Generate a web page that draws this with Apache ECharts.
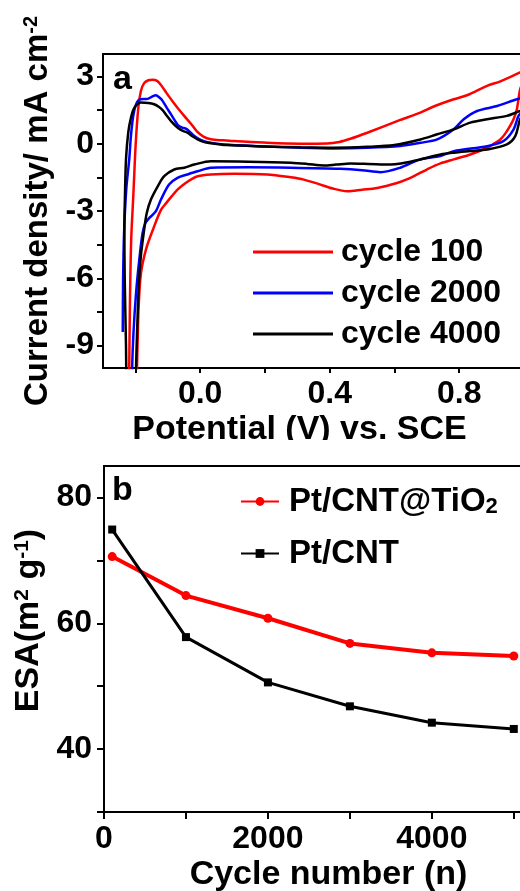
<!DOCTYPE html>
<html>
<head>
<meta charset="utf-8">
<script src="https://cdn.jsdelivr.net/npm/echarts@6/dist/echarts.min.js"></script>
<style>
  html, body { margin: 0; padding: 0; background: #fff; }
  #main { width: 520px; height: 891px; }
</style>
</head>
<body>
<div id="main"></div>
<script>
// ---- panel a: cyclic voltammograms, [potential (V), current density (mA cm-2)] ----
var cycle100 = [
    [-0.221, -12], [-0.219, -10], [-0.217, -7.3], [-0.213, -4.3], [-0.206, -2.2], [-0.199, 0.0],
    [-0.191, 1.6], [-0.183, 2.35], [-0.173, 2.7], [-0.16, 2.83], [-0.147, 2.85], [-0.133, 2.8],
    [-0.121, 2.62], [-0.108, 2.35], [-0.096, 2.1], [-0.083, 1.85], [-0.07, 1.6], [-0.05, 1.25],
    [-0.029, 0.9], [-0.01, 0.55], [0.01, 0.32], [0.033, 0.2], [0.07, 0.15], [0.105, 0.12],
    [0.207, 0.04], [0.31, 0.0], [0.392, 0.01], [0.43, 0.08], [0.464, 0.22], [0.516, 0.49],
    [0.618, 1.06], [0.68, 1.39], [0.721, 1.66], [0.783, 1.98], [0.824, 2.16], [0.886, 2.58],
    [0.927, 2.78], [0.988, 3.18], [1.0, 3.3],
    [1.0, 2.9], [0.988, 2.43], [0.978, 1.54], [0.968, 1.1], [0.957, 0.79], [0.942, 0.45],
    [0.927, 0.19], [0.905, -0.02], [0.886, -0.18], [0.834, -0.48], [0.783, -0.7], [0.742, -0.88],
    [0.7, -1.15], [0.67, -1.37], [0.64, -1.58], [0.608, -1.75], [0.547, -1.97], [0.5, -2.05],
    [0.454, -2.12], [0.41, -2.0], [0.362, -1.78], [0.32, -1.6], [0.28, -1.5], [0.207, -1.37],
    [0.105, -1.34], [0.033, -1.37], [-0.008, -1.45], [-0.029, -1.6], [-0.049, -1.8], [-0.07, -2.05],
    [-0.088, -2.35], [-0.105, -2.65], [-0.121, -2.95], [-0.145, -3.8], [-0.167, -4.7], [-0.183, -5.8],
    [-0.19, -7.3], [-0.193, -8.8], [-0.195, -10], [-0.197, -12]
];
var cycle2000 = [
    [-0.239, -8.4], [-0.238, -6.1], [-0.235, -4.0], [-0.228, -2.0], [-0.219, -0.7], [-0.214, 0.3],
    [-0.207, 1.2], [-0.198, 1.75], [-0.185, 1.98], [-0.162, 2.0], [-0.148, 2.1], [-0.137, 2.16],
    [-0.125, 2.05], [-0.116, 1.91], [-0.103, 1.6], [-0.09, 1.31], [-0.079, 1.05], [-0.068, 0.82],
    [-0.055, 0.72], [-0.044, 0.67], [-0.03, 0.5], [-0.018, 0.34], [0.0, 0.18], [0.023, 0.07],
    [0.074, -0.04], [0.2, -0.12], [0.31, -0.18], [0.413, -0.21], [0.516, -0.18], [0.618, -0.1],
    [0.68, 0.04], [0.732, 0.19], [0.783, 0.64], [0.814, 1.09], [0.855, 1.46], [0.917, 1.68],
    [0.978, 1.98], [1.0, 2.05],
    [1.0, 1.6], [0.983, 1.24], [0.968, 0.64], [0.937, 0.12], [0.886, -0.11], [0.783, -0.33],
    [0.742, -0.55], [0.68, -0.7], [0.618, -1.07], [0.557, -1.27], [0.5, -1.18], [0.433, -1.12],
    [0.28, -1.07], [0.15, -1.05], [0.033, -1.07], [-0.008, -1.23], [-0.039, -1.37], [-0.07, -1.52],
    [-0.096, -1.82], [-0.121, -2.49], [-0.137, -3.02], [-0.157, -3.31], [-0.169, -3.54], [-0.178, -4.0],
    [-0.188, -5.18], [-0.198, -6.67], [-0.206, -8.46], [-0.21, -10], [-0.212, -12]
];
var cycle4000 = [
    [-0.227, -12], [-0.229, -9], [-0.233, -6], [-0.234, -3.8], [-0.232, -2.2], [-0.229, -0.7],
    [-0.222, 0.5], [-0.213, 1.2], [-0.203, 1.61], [-0.183, 1.84], [-0.16, 1.82], [-0.142, 1.76],
    [-0.128, 1.65], [-0.116, 1.5], [-0.103, 1.25], [-0.09, 1.01], [-0.07, 0.72], [-0.055, 0.58],
    [-0.039, 0.49], [-0.024, 0.33], [-0.008, 0.19], [0.01, 0.08], [0.033, 0.02], [0.08, -0.06],
    [0.2, -0.12], [0.31, -0.16], [0.413, -0.18], [0.516, -0.14], [0.6, -0.06], [0.68, 0.19],
    [0.732, 0.42], [0.783, 0.64], [0.834, 0.94], [0.886, 1.09], [0.947, 1.24], [0.988, 1.46],
    [1.0, 1.5],
    [1.0, 1.3], [0.988, 1.09], [0.973, 0.34], [0.947, -0.03], [0.886, -0.26], [0.834, -0.33],
    [0.783, -0.4], [0.742, -0.48], [0.68, -0.7], [0.62, -0.88], [0.588, -0.93], [0.52, -0.9],
    [0.464, -0.88], [0.42, -0.93], [0.382, -0.97], [0.33, -0.9], [0.28, -0.85], [0.15, -0.8],
    [0.033, -0.78], [-0.018, -0.93], [-0.049, -1.07], [-0.08, -1.15], [-0.111, -1.45], [-0.131, -1.9],
    [-0.152, -2.49], [-0.165, -3.1], [-0.173, -3.84], [-0.183, -5.0], [-0.19, -6.5], [-0.195, -8.5],
    [-0.198, -10], [-0.2, -12]
];
var cvNames = ['cycle 100', 'cycle 2000', 'cycle 4000'];

// ---- panel b: ESA vs cycle number ----
var cycles = [100, 1000, 2000, 3000, 4000, 5000];
var esaTiO2 = [70.6, 64.4, 60.8, 56.8, 55.3, 54.8];
var esaCNT = [74.9, 57.8, 50.6, 46.8, 44.2, 43.2];

// tick / label positions
var cvXTicks = [-0.2, 0, 0.2, 0.4, 0.6, 0.8, 1.0];
var cvXLabels = [0, 0.4, 0.8];
var cvYTicks = [-9, -7.5, -6, -4.5, -3, -1.5, 0, 1.5, 3];
var cvYLabels = [-9, -6, -3, 0, 3];
var esaXTicks = [0, 1000, 2000, 3000, 4000, 5000];
var esaXLabels = [0, 2000, 4000];
var esaYTicks = [30, 40, 50, 60, 70, 80];
var esaYLabels = [40, 60, 80];

var FONT = '"Liberation Sans", Arial, Helvetica, sans-serif';

function zip(xs, ys) {
    var out = [];
    for (var i = 0; i < xs.length; i++) {
        out.push([xs[i], ys[i]]);
    }
    return out;
}

// common axis look: black 2px line, outside ticks, big bold labels
function makeAxis(grid, min, max, ticks, labels, tickLen, margin, fmt) {
    return {
        type: 'value',
        gridIndex: grid,
        min: min,
        max: max,
        splitLine: { show: false },
        axisLine: { show: true, onZero: false, lineStyle: { color: '#000', width: 2 } },
        axisTick: {
            show: true,
            inside: false,
            length: tickLen,
            customValues: ticks,
            lineStyle: { color: '#000', width: 2 }
        },
        axisLabel: {
            customValues: labels,
            margin: margin,
            color: '#000',
            fontSize: 32,
            fontWeight: 'bold',
            fontFamily: FONT,
            formatter: fmt
        }
    };
}

var nameStyle = {
    color: '#000',
    fontSize: 34,
    fontWeight: 'bold',
    fontFamily: FONT
};

var xA = makeAxis(0, -0.3, 1.0, cvXTicks, cvXLabels, 5, 10, function (v) { return v.toFixed(1); });
xA.name = 'Potential (V) vs. SCE';
xA.nameLocation = 'middle';
xA.nameGap = 45;
xA.nameTextStyle = Object.assign({ padding: [0, 28, 0, 0] }, nameStyle);

var yA = makeAxis(0, -10, 4, cvYTicks, cvYLabels, 6, 9, function (v) { return String(v); });
yA.name = 'Current density/ mA cm{sup|-2}';
yA.nameLocation = 'middle';
yA.nameGap = 38;
yA.nameTextStyle = Object.assign({}, nameStyle, {
    fontSize: 33,
    rich: { sup: { fontSize: 20, fontWeight: 'bold', fontFamily: FONT, color: '#000', verticalAlign: 'top' } }
});

var xB = makeAxis(1, 0, 5100, esaXTicks, esaXLabels, 7, 11, function (v) { return String(v); });
xB.name = 'Cycle number (n)';
xB.nameLocation = 'middle';
xB.nameGap = 46;
xB.nameTextStyle = Object.assign({ padding: [0, 0, 0, 31] }, nameStyle);

var yB = makeAxis(1, 30, 85, esaYTicks, esaYLabels, 7, 12, function (v) { return String(v); });
yB.name = 'ESA(m{sup|2} g{sup|-1})';
yB.nameLocation = 'middle';
yB.nameGap = 54;
yB.nameTextStyle = Object.assign({
    padding: [0, 0, 0, 37],
    rich: { sup: { fontSize: 21, fontWeight: 'bold', fontFamily: FONT, color: '#000', verticalAlign: 'top' } }
}, nameStyle);

function cvSeries(name, data, color) {
    return {
        name: name,
        type: 'line',
        xAxisIndex: 0,
        yAxisIndex: 0,
        data: data,
        symbol: 'none',
        smooth: 0.3,
        clip: true,
        lineStyle: { color: color, width: 2.5 },
        itemStyle: { color: color }
    };
}

var chart = echarts.init(document.getElementById('main'), null, { renderer: 'canvas' });
chart.setOption({
    animation: false,
    backgroundColor: '#fff',
    grid: [
        { left: 103, top: 54, width: 421, height: 314, show: true, borderColor: '#000', borderWidth: 2, outerBoundsMode: 'none' },
        { left: 104, top: 466, width: 418, height: 346, show: true, borderColor: '#000', borderWidth: 2, outerBoundsMode: 'none' }
    ],
    xAxis: [xA, xB],
    yAxis: [yA, yB],
    legend: [
        {
            data: cvNames,
            orient: 'vertical',
            left: 248,
            top: 231,
            icon: 'rect',
            itemWidth: 80,
            itemHeight: 3,
            itemGap: 9,
            selectedMode: false,
            textStyle: { color: '#000', fontSize: 32, fontWeight: 'bold', fontFamily: FONT, padding: [0, 0, 0, 3] }
        },
        {
            data: ['Pt/CNT@TiO2', 'Pt/CNT'],
            orient: 'vertical',
            left: 235,
            top: 480,
            itemWidth: 38,
            itemHeight: 11,
            itemGap: 19,
            selectedMode: false,
            formatter: function (name) {
                if (name === 'Pt/CNT@TiO2') {
                    return '{m|Pt/CNT@TiO}{s|2}';
                }
                return '{m|' + name + '}';
            },
            textStyle: {
                color: '#000',
                padding: [0, 0, 0, 5],
                rich: {
                    m: { fontSize: 33, fontWeight: 'bold', fontFamily: FONT, color: '#000' },
                    s: { fontSize: 22, fontWeight: 'bold', fontFamily: FONT, color: '#000', verticalAlign: 'bottom', lineHeight: 18 }
                }
            }
        }
    ],
    graphic: [
        // the source figure is cut just under the baseline of the top x title
        { type: 'rect', z: 100, shape: { x: 0, y: 440, width: 520, height: 22 }, style: { fill: '#fff' } },
        { type: 'text', left: 113, top: 63, z: 101, style: { text: 'a', fill: '#000', font: 'bold 34px ' + FONT } },
        { type: 'text', left: 112, top: 474, z: 101, style: { text: 'b', fill: '#000', font: 'bold 34px ' + FONT } }
    ],
    series: [
        cvSeries(cvNames[0], cycle100, '#ff0000'),
        cvSeries(cvNames[1], cycle2000, '#0000ff'),
        cvSeries(cvNames[2], cycle4000, '#000000'),
        {
            name: 'Pt/CNT@TiO2',
            type: 'line',
            xAxisIndex: 1,
            yAxisIndex: 1,
            data: zip(cycles, esaTiO2),
            symbol: 'circle',
            symbolSize: 9,
            lineStyle: { color: '#ff0000', width: 4 },
            itemStyle: { color: '#ff0000' }
        },
        {
            name: 'Pt/CNT',
            type: 'line',
            xAxisIndex: 1,
            yAxisIndex: 1,
            data: zip(cycles, esaCNT),
            symbol: 'rect',
            symbolSize: 8,
            lineStyle: { color: '#000000', width: 3 },
            itemStyle: { color: '#000000' }
        }
    ]
});
</script>
</body>
</html>
